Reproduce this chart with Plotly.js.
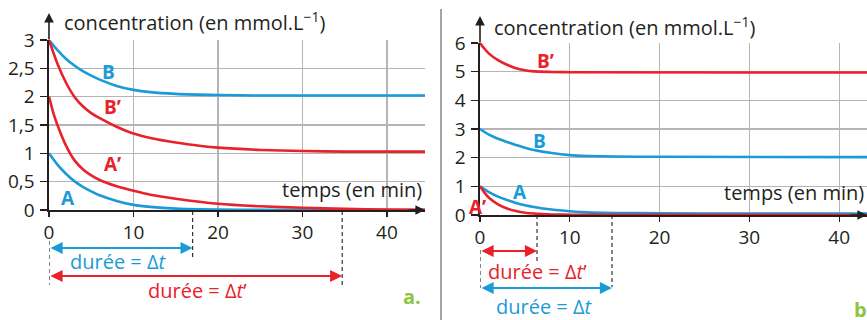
<!DOCTYPE html>
<html>
<head>
<meta charset="utf-8">
<script src="https://cdn.plot.ly/plotly-3.0.1.min.js"></script>
<style>html,body{margin:0;padding:0;background:#fff;}#chart{width:867px;height:320px;}</style>
</head>
<body>
<div id="chart"></div>
<script>
// ---------- data ----------
// Panel a.
const tA_a  = [0, 1, 2, 3, 4, 5, 6, 8, 10, 12, 15, 20, 25, 30, 44.5];
const cA_a  = [1.0, 0.80, 0.64, 0.51, 0.41, 0.33, 0.26, 0.16, 0.09, 0.055, 0.025, 0.008, 0.003, 0.0, 0.0];
const tA2_a = [0, 0.5, 1, 2, 3, 4, 5, 6, 8, 10, 12, 15, 20, 25, 30, 35, 40, 44.5];
const cA2_a = [2.0, 1.72, 1.5, 1.14, 0.88, 0.72, 0.61, 0.53, 0.42, 0.34, 0.27, 0.2, 0.11, 0.065, 0.04, 0.02, 0.008, 0.003];
const tB_a  = [0, 1, 2, 3, 4, 5, 6, 8, 10, 12, 15, 20, 25, 30, 44.5];
const cB_a  = [3.0, 2.82, 2.67, 2.55, 2.45, 2.37, 2.30, 2.19, 2.12, 2.08, 2.05, 2.03, 2.02, 2.02, 2.02];
const tB2_a = [0, 1, 2, 3, 4, 5, 6, 8, 10, 12, 15, 18, 20, 25, 30, 35, 44.5];
const cB2_a = [3.0, 2.58, 2.25, 2.0, 1.83, 1.71, 1.62, 1.47, 1.35, 1.27, 1.19, 1.13, 1.10, 1.06, 1.04, 1.03, 1.03];
// Panel b.
const tA_b  = [0, 1, 2, 3, 4, 5, 6, 8, 10, 12, 15, 20, 30, 43.1];
const cA_b  = [1.0, 0.80, 0.64, 0.52, 0.42, 0.34, 0.28, 0.19, 0.13, 0.09, 0.07, 0.06, 0.05, 0.05];
const tA2_b = [0, 0.5, 1, 2, 3, 4, 5, 6, 8, 10, 43.1];
const cA2_b = [1.0, 0.78, 0.6, 0.37, 0.23, 0.14, 0.08, 0.05, 0.02, 0.01, 0.0];
const tB_b  = [0, 1, 2, 3, 4, 5, 6, 8, 10, 12, 15, 20, 43.1];
const cB_b  = [3.0, 2.8, 2.66, 2.55, 2.44, 2.35, 2.27, 2.16, 2.09, 2.06, 2.04, 2.03, 2.02];
const tB2_b = [0, 0.5, 1, 2, 3, 4, 5, 6, 8, 10, 43.1];
const cB2_b = [6.0, 5.8, 5.63, 5.4, 5.24, 5.12, 5.05, 5.01, 4.99, 4.98, 4.97];
// durations (min)
const dur_a = [17, 34.7];   // Δt (blue), Δt' (red)
const dur_b = [14.7, 6.35]; // Δt (blue), Δt' (red)
// ticks
const xTicks = [0, 10, 20, 30, 40];
const xTickText = ['0', '10', '20', '30', '40'];
const yTicks_a = [0, 0.5, 1, 1.5, 2, 2.5, 3];
const yTickText_a = ['0', '0,5', '1', '1,5', '2', '2,5', '3'];
const yTicks_b = [0, 1, 2, 3, 4, 5, 6];
const yTickText_b = ['0', '1', '2', '3', '4', '5', '6'];

// ---------- style ----------
const BLUE = '#1a9bd7', RED = '#e8212b', INK = '#231f20', GRID = '#b5b5b5', GREEN = '#8cc63f';
const FONT = 'Open Sans';
const W = 867, H = 320;
const px = v => v / W, py = v => 1 - v / H;

function line(x, y, color, xa, ya) {
  return {x: x, y: y, type: 'scatter', mode: 'lines', xaxis: xa, yaxis: ya,
          line: {color: color, width: 2.6, shape: 'spline', smoothing: 0.6}, hoverinfo: 'skip'};
}
const data = [
  line(tA_a, cA_a, BLUE, 'x', 'y'),
  line(tA2_a, cA2_a, RED, 'x', 'y'),
  line(tB_a, cB_a, BLUE, 'x', 'y'),
  line(tB2_a, cB2_a, RED, 'x', 'y'),
  line(tA_b, cA_b, BLUE, 'x2', 'y2'),
  line(tA2_b, cA2_b, RED, 'x2', 'y2'),
  line(tB_b, cB_b, BLUE, 'x2', 'y2'),
  line(tB2_b, cB2_b, RED, 'x2', 'y2')
];

function xax(domain, range, anchor) {
  return {domain: domain, range: range, anchor: anchor, tickvals: xTicks, ticktext: xTickText,
          showgrid: true, gridcolor: GRID, gridwidth: 1.2, zeroline: false,
          showline: true, linecolor: INK, linewidth: 1.6, ticks: 'outside', ticklen: 5,
          tickcolor: INK, tickwidth: 1.2, tickfont: {family: FONT, size: 19, color: INK}, fixedrange: true};
}
function yax(domain, range, anchor, tv, tt) {
  return {domain: domain, range: range, anchor: anchor, tickvals: tv, ticktext: tt,
          showgrid: true, gridcolor: GRID, gridwidth: 1.2, zeroline: false,
          showline: true, linecolor: INK, linewidth: 1.6, ticks: 'outside', ticklen: 7,
          tickcolor: INK, tickwidth: 1.2, ticklabelstandoff: 2,
          tickfont: {family: FONT, size: 19, color: INK}, fixedrange: true};
}

function txt(text, x, y, color, size, opts) {
  return Object.assign({text: text, xref: 'paper', yref: 'paper', x: px(x), y: py(y),
    showarrow: false, xanchor: 'center', yanchor: 'middle',
    font: {family: FONT, size: size, color: color}}, opts || {});
}
function darrow(xa, x0, x1, y, color) {
  return {xref: xa, axref: xa, yref: 'paper', ayref: 'pixel', x: x1, ax: x0, y: py(y), ay: 0,
          text: '', showarrow: true, arrowside: 'end+start', arrowhead: 2, arrowsize: 1.1,
          arrowwidth: 2.2, arrowcolor: color, standoff: 0, startstandoff: 0};
}

const annotations = [
  // axis titles
  txt('concentration (en mmol.L<sup>\u22121</sup>)', 62, 21, INK, 20, {xanchor: 'left'}),
  txt('concentration (en mmol.L<sup>\u22121</sup>)', 492, 27, INK, 20, {xanchor: 'left'}),
  txt('temps (en min)', 424, 189, INK, 20, {xanchor: 'right'}),
  txt('temps (en min)', 866, 192, INK, 20, {xanchor: 'right'}),
  // curve labels
  txt('<b>B</b>', 108, 72, BLUE, 19),
  txt('<b>B\u2019</b>', 113, 107, RED, 19),
  txt('<b>A\u2019</b>', 113, 164, RED, 19),
  txt('<b>A</b>', 68, 198, BLUE, 19),
  txt('<b>B\u2019</b>', 545, 61, RED, 19),
  txt('<b>B</b>', 539, 141, BLUE, 19),
  txt('<b>A</b>', 520, 192, BLUE, 19),
  txt('<b>A\u2019</b>', 477, 207, RED, 19),
  // duration labels
  txt('durée = Δ<i>t</i>', 118, 261, BLUE, 20),
  txt('durée = Δ<i>t</i>\u2019', 197, 290, RED, 20),
  txt('durée = Δ<i>t</i>\u2019', 537, 271, RED, 20),
  txt('durée = Δ<i>t</i>', 544, 306, BLUE, 20),
  txt('<b>a.</b>', 412, 296, GREEN, 20),
  txt('<b>b.</b>', 852, 309, GREEN, 20, {xanchor: 'left'}),
  // duration arrows
  darrow('x', 0, dur_a[0], 248, BLUE),
  darrow('x', 0, dur_a[1], 276, RED),
  darrow('x2', 0, dur_b[1], 251, RED),
  darrow('x2', 0, dur_b[0], 288, BLUE),
  // axis arrows
  {xref: 'x', yref: 'y', x: 44.5, y: 0, ax: -18, ay: 0, text: '', showarrow: true,
   arrowhead: 2, arrowsize: 1.2, arrowwidth: 1.6, arrowcolor: INK, standoff: 0},
  {xref: 'x2', yref: 'y2', x: 43.1, y: 0, ax: -18, ay: 0, text: '', showarrow: true,
   arrowhead: 2, arrowsize: 1.2, arrowwidth: 1.6, arrowcolor: INK, standoff: 0},
  {xref: 'x', yref: 'paper', x: 0, y: py(13), ax: 0, ay: 28, text: '', showarrow: true,
   arrowhead: 2, arrowsize: 1.2, arrowwidth: 1.6, arrowcolor: INK, standoff: 0},
  {xref: 'x2', yref: 'paper', x: 0, y: py(16), ax: 0, ay: 28, text: '', showarrow: true,
   arrowhead: 2, arrowsize: 1.2, arrowwidth: 1.6, arrowcolor: INK, standoff: 0}
];

function vdash(xa, x, y0, y1) {
  return {type: 'line', xref: xa, yref: 'paper', x0: x, x1: x, y0: py(y0), y1: py(y1),
          line: {color: INK, width: 1.1, dash: '4px,3px'}};
}
const shapes = [
  vdash('x', 0, 241, 285), vdash('x', dur_a[0], 211, 257), vdash('x', dur_a[1], 211, 287),
  vdash('x2', 0, 250, 288), vdash('x2', dur_b[1], 215, 262), vdash('x2', dur_b[0], 215, 287),
  {type: 'line', xref: 'paper', yref: 'paper', x0: px(441), x1: px(441), y0: 0, y1: py(9),
   line: {color: '#8f8f8f', width: 1.6}}
];

const layout = {
  width: W, height: H, margin: {l: 0, r: 0, t: 0, b: 0},
  paper_bgcolor: '#fff', plot_bgcolor: '#fff', showlegend: false,
  font: {family: FONT, color: INK},
  xaxis: xax([px(49), px(425)], [0, 44.5], 'y'),
  yaxis: yax([py(210), py(40)], [0, 3], 'x', yTicks_a, yTickText_a),
  xaxis2: xax([px(480), 1], [0, 43.1], 'y2'),
  yaxis2: yax([py(215), py(43)], [0, 6], 'x2', yTicks_b, yTickText_b),
  annotations: annotations, shapes: shapes
};
Plotly.newPlot('chart', data, layout, {staticPlot: true, displayModeBar: false});
</script>
</body>
</html>
